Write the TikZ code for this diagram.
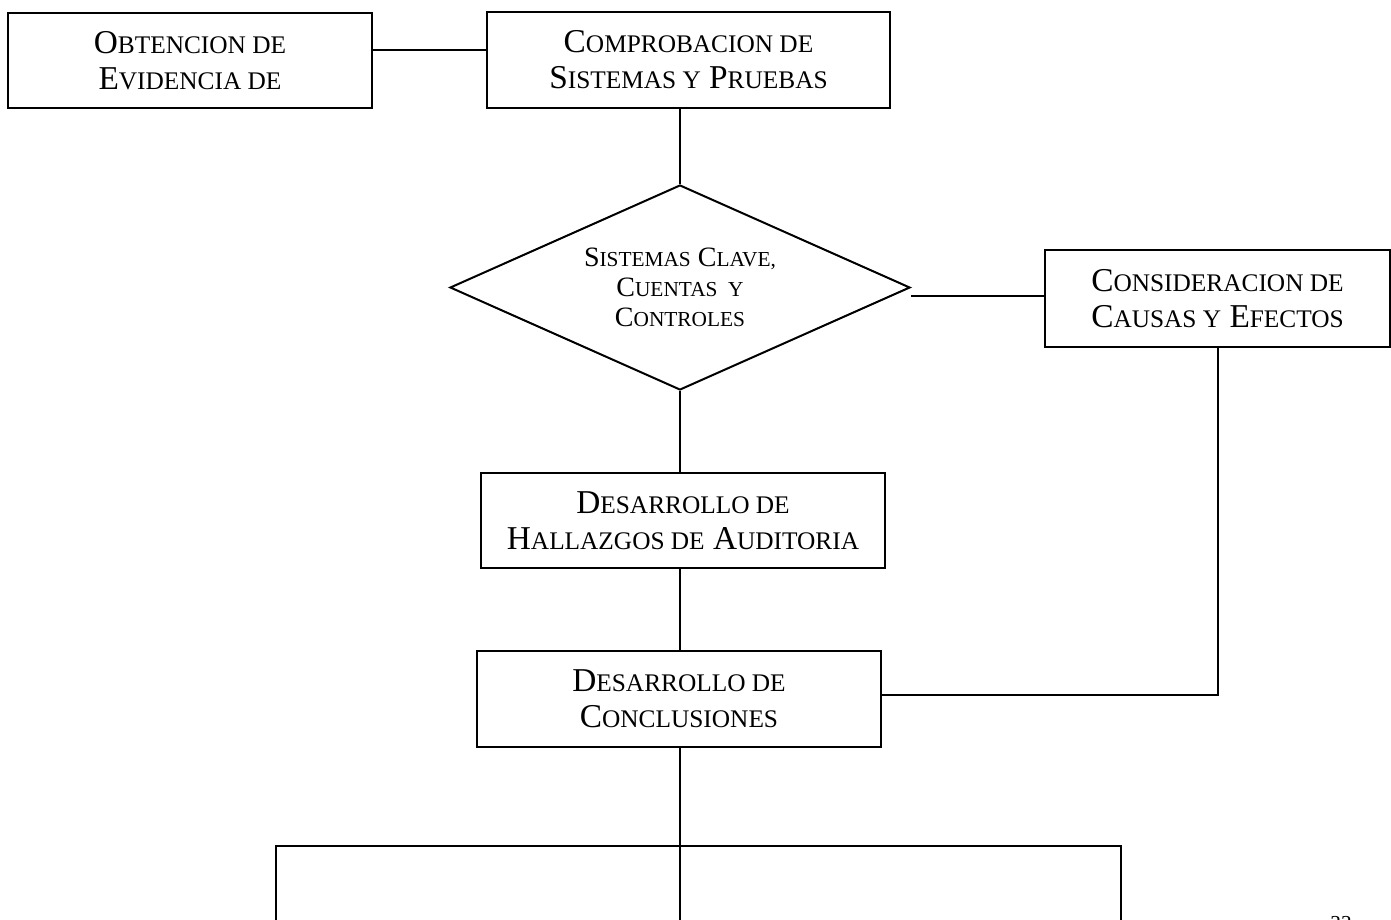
\documentclass[tikz,border=0pt]{standalone}
\usepackage{fontspec}
\setmainfont{Liberation Serif}
\usetikzlibrary{shapes.geometric,calc}
\newcommand\Sm{\fontsize{19}{27}\selectfont}
\newcommand\Dsm{\fontsize{16}{22.5}\selectfont}
\tikzset{
  conn/.style={line width=1.5pt, draw=black},
  boxnode/.style={draw=black, line width=1.5pt, rectangle, align=center, inner sep=0pt,
    font=\fontsize{25}{27}\selectfont},
  dianode/.style={draw=black, line width=1.5pt, diamond, aspect=2.25, align=center, inner sep=0pt,
    font=\fontsize{21}{22.5}\selectfont}
}
\begin{document}
\begin{tikzpicture}[x=0.75pt,y=-0.75pt]
\path[use as bounding box] (0,0) rectangle (1391,920);
\clip (0,0) rectangle (1391,920);
\fill[white] (0,0) rectangle (1391,920);

\node[boxnode, minimum width=273pt, minimum height=71.25pt] (b1) at (190,60.5)
  {O{\Sm BTENCION DE}\\E{\Sm VIDENCIA DE}};
\node[boxnode, minimum width=302.25pt, minimum height=72pt] (b2) at (688.5,60)
  {C{\Sm OMPROBACION DE}\\S{\Sm ISTEMAS Y} P{\Sm RUEBAS}};
\node[dianode, minimum width=345pt, minimum height=153.75pt] (dia) at (680,287.5)
  {S{\Dsm ISTEMAS} C{\Dsm LAVE,}\\C{\Dsm UENTAS\ \ Y}\\C{\Dsm ONTROLES}};
\node[boxnode, minimum width=258.75pt, minimum height=72.75pt] (cons) at (1217.5,298.5)
  {C{\Sm ONSIDERACION DE}\\C{\Sm AUSAS Y} E{\Sm FECTOS}};
\node[boxnode, minimum width=303pt, minimum height=71.25pt] (hal) at (683,520.5)
  {D{\Sm ESARROLLO DE}\\H{\Sm ALLAZGOS DE} A{\Sm UDITORIA}};
\node[boxnode, minimum width=303pt, minimum height=72pt] (conc) at (679,699)
  {D{\Sm ESARROLLO DE}\\C{\Sm ONCLUSIONES}};

\node[inner sep=0pt, anchor=north, font=\fontsize{16}{16}\selectfont] (pg) at (1341,916) {33};

\coordinate (y1) at (0,50);
\coordinate (y2) at (0,296);
\coordinate (y3) at (0,695);
\coordinate (bl) at (276,846);
\coordinate (br) at (1121,846);
\coordinate (blend) at (276,930);
\coordinate (brend) at (1121,930);
\coordinate (bmend) at (680,930);

\draw[conn] (b1.east |- y1) -- (b2.west |- y1);
\draw[conn] (b2.south -| dia.north) -- (dia.north);
\draw[conn] (dia.east |- y2) -- (cons.west |- y2);
\draw[conn] (dia.south) -- (dia.south |- hal.north);
\draw[conn] (hal.south -| dia.south) -- (dia.south |- conc.north);
\draw[conn] (cons.south) -- (cons.south |- y3) -- (conc.east |- y3);
\draw[conn] (conc.south -| dia.south) -- (bmend);
\draw[conn] (blend) -- (bl) -- (br) -- (brend);
\end{tikzpicture}
\end{document}
